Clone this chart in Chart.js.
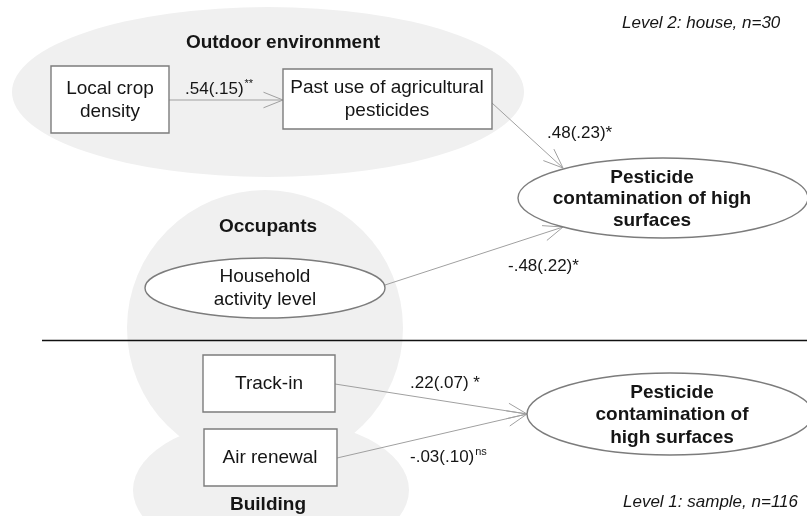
<!DOCTYPE html>
<html>
<head>
<meta charset="utf-8">
<script src="https://cdn.jsdelivr.net/npm/chart.js@4.4.1/dist/chart.umd.min.js"></script>
<style>
  html, body { margin: 0; padding: 0; background: #fff; }
  #wrap { width: 807px; height: 516px; }
</style>
</head>
<body>
<div id="wrap"><canvas id="pathChart" width="807" height="516"></canvas></div>
<script>
// path model data
const groupLabels = ['Outdoor environment', 'Occupants', 'Building'];
const levelLabels = ['Level 2: house, n=30', 'Level 1: sample, n=116'];
const nodeLabels = [
    ['Local crop', 'density'],
    ['Past use of agricultural', 'pesticides'],
    ['Pesticide', 'contamination of high', 'surfaces'],
    ['Household', 'activity level'],
    ['Track-in'],
    ['Air renewal'],
    ['Pesticide', 'contamination of', 'high surfaces']
];
const pathFrom = [0, 1, 3, 4, 5];
const pathTo = [1, 2, 2, 6, 6];
const coefs = ['.54', '.48', '-.48', '.22', '-.03'];
const stdErrs = ['.15', '.23', '.22', '.07', '.10'];
const signif = ['**', '*', '*', ' *', 'ns'];

// layout (canvas units)
const nodeLayout = [
    { shape: 'rect', x0: 51, y0: 66, x1: 169, y1: 133, tx: 110, ty: 100, gap: 23, bold: false },
    { shape: 'rect', x0: 283, y0: 69, x1: 492, y1: 129, tx: 387, ty: 99, gap: 23, bold: false },
    { shape: 'ellipse', cx: 663, cy: 198, rx: 145, ry: 40, tx: 652, ty: 199, gap: 21.5, bold: true },
    { shape: 'ellipse', cx: 265, cy: 288, rx: 120, ry: 30, tx: 265, ty: 288, gap: 23, bold: false },
    { shape: 'rect', x0: 203, y0: 355, x1: 335, y1: 412, tx: 269, ty: 384, gap: 23, bold: false },
    { shape: 'rect', x0: 204, y0: 429, x1: 337, y1: 486, tx: 270, ty: 458, gap: 23, bold: false },
    { shape: 'ellipse', cx: 670, cy: 414, rx: 143, ry: 41, tx: 672, ty: 415, gap: 22.5, bold: true }
];
const edgeLayout = [
    { a: [169, 100], b: [283, 100], lx: 185, ly: 89 },
    { a: [492, 103], b: [563, 168], lx: 547, ly: 133 },
    { a: [385, 285], b: [563, 227], lx: 508, ly: 266 },
    { a: [335, 384], b: [527, 414], lx: 410, ly: 383 },
    { a: [337, 458], b: [527, 414], lx: 410, ly: 457 }
];
const groupPos = [[283, 43], [268, 227], [268, 505]];
const levelPos = [[622, 23], [623, 502]];
const blobs = [
    { cx: 268, cy: 92, rx: 256, ry: 85 },
    { cx: 265, cy: 328, rx: 138, ry: 138 },
    { cx: 271, cy: 490, rx: 138, ry: 72 }
];
const divider = [[42, 340.5], [807, 340.5]];

const FONT = '"Liberation Sans", Arial, sans-serif';
const TEXT = '#151515';

const datasets = pathFrom.map((f, i) => ({
    label: nodeLabels[f].join(' ') + ' -> ' + nodeLabels[pathTo[i]].join(' '),
    data: [{ x: edgeLayout[i].a[0], y: edgeLayout[i].a[1] }, { x: edgeLayout[i].b[0], y: edgeLayout[i].b[1] }],
    showLine: true,
    borderColor: '#a0a0a0',
    borderWidth: 1,
    pointRadius: 0
}));
datasets.push({
    label: 'levels',
    data: divider.map(p => ({ x: p[0], y: p[1] })),
    showLine: true,
    borderColor: '#111',
    borderWidth: 1.6,
    pointRadius: 0
});

const diagramPlugin = {
    id: 'diagram',
    beforeDatasetsDraw(chart) {
        const { ctx, scales: { x, y } } = chart;
        ctx.save();
        ctx.fillStyle = '#f0f0f0';
        blobs.forEach(b => {
            ctx.beginPath();
            ctx.ellipse(x.getPixelForValue(b.cx), y.getPixelForValue(b.cy),
                x.getPixelForValue(b.cx + b.rx) - x.getPixelForValue(b.cx),
                Math.abs(y.getPixelForValue(b.cy + b.ry) - y.getPixelForValue(b.cy)), 0, 0, Math.PI * 2);
            ctx.fill();
        });
        ctx.restore();
    },
    afterDatasetsDraw(chart) {
        const { ctx, scales: { x, y } } = chart;
        const px = v => x.getPixelForValue(v);
        const py = v => y.getPixelForValue(v);
        ctx.save();

        // arrow heads
        ctx.strokeStyle = '#a0a0a0';
        ctx.lineWidth = 1;
        edgeLayout.forEach(e => {
            const bx = px(e.b[0]), by = py(e.b[1]);
            const ang = Math.atan2(by - py(e.a[1]), bx - px(e.a[0]));
            ctx.beginPath();
            [-1, 1].forEach(s => {
                const a = ang + Math.PI + s * 0.38;
                ctx.moveTo(bx, by);
                ctx.lineTo(bx + 21 * Math.cos(a), by + 21 * Math.sin(a));
            });
            ctx.stroke();
        });

        // nodes
        nodeLayout.forEach((n, i) => {
            ctx.beginPath();
            if (n.shape === 'rect') {
                ctx.rect(px(n.x0), py(n.y0), px(n.x1) - px(n.x0), py(n.y1) - py(n.y0));
            } else {
                ctx.ellipse(px(n.cx), py(n.cy), px(n.cx + n.rx) - px(n.cx),
                    Math.abs(py(n.cy + n.ry) - py(n.cy)), 0, 0, Math.PI * 2);
            }
            ctx.fillStyle = '#fff';
            ctx.fill();
            ctx.strokeStyle = '#7c7c7c';
            ctx.lineWidth = 1.4;
            ctx.stroke();

            const lines = nodeLabels[i];
            ctx.fillStyle = TEXT;
            ctx.font = (n.bold ? 'bold ' : '') + '19px ' + FONT;
            ctx.textAlign = 'center';
            ctx.textBaseline = 'middle';
            lines.forEach((t, k) => {
                ctx.fillText(t, px(n.tx), py(n.ty + (k - (lines.length - 1) / 2) * n.gap));
            });
        });

        // path coefficients
        ctx.textAlign = 'left';
        ctx.textBaseline = 'middle';
        edgeLayout.forEach((e, i) => {
            const main = coefs[i] + '(' + stdErrs[i] + ')';
            ctx.font = '17px ' + FONT;
            ctx.fillStyle = TEXT;
            ctx.fillText(main, px(e.lx), py(e.ly));
            const w = ctx.measureText(main).width;
            const sup = signif[i];
            if (sup === '*' || sup === ' *') {
                ctx.fillText(sup, px(e.lx) + w, py(e.ly));
            } else {
                ctx.font = '11px ' + FONT;
                ctx.fillText(sup, px(e.lx) + w + 1, py(e.ly) - 5);
            }
        });

        // group titles
        ctx.textAlign = 'center';
        ctx.font = 'bold 19px ' + FONT;
        groupLabels.forEach((t, i) => ctx.fillText(t, px(groupPos[i][0]), py(groupPos[i][1])));

        // level labels
        ctx.textAlign = 'left';
        ctx.font = 'italic 17px ' + FONT;
        levelLabels.forEach((t, i) => ctx.fillText(t, px(levelPos[i][0]), py(levelPos[i][1])));

        ctx.restore();
    }
};

const ctx = document.getElementById('pathChart').getContext('2d');
new Chart(ctx, {
    type: 'scatter',
    data: { datasets: datasets },
    options: {
        responsive: false,
        animation: false,
        devicePixelRatio: 1,
        layout: { padding: 0 },
        plugins: { legend: { display: false }, tooltip: { enabled: false } },
        scales: {
            x: { type: 'linear', min: 0, max: 807, display: false },
            y: { type: 'linear', min: 0, max: 516, reverse: true, display: false }
        }
    },
    plugins: [diagramPlugin]
});
</script>
</body>
</html>
